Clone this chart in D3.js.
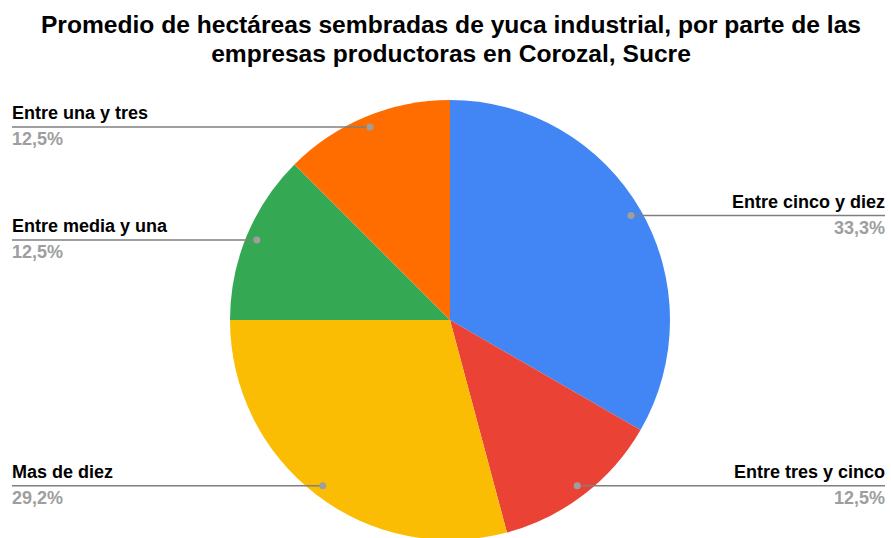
<!DOCTYPE html>
<html>
<head>
<meta charset="utf-8">
<script src="https://cdn.jsdelivr.net/npm/d3@7"></script>
<style>
  html, body { margin: 0; padding: 0; background: #ffffff; }
  svg { display: block; }
  text { font-family: "Liberation Sans", Arial, sans-serif; }
</style>
</head>
<body>
<svg id="chart" width="891" height="538"></svg>
<script>
// Chart data
const titleLines = [
  "Promedio de hectáreas sembradas de yuca industrial, por parte de las",
  "empresas productoras en Corozal, Sucre"
];
const categories = ["Entre cinco y diez", "Entre tres y cinco", "Mas de diez", "Entre media y una", "Entre una y tres"];
const values = [8, 3, 7, 3, 3];
const colors = ["#4285f4", "#ea4335", "#fbbc04", "#34a853", "#ff6d01"];

const width = 891, height = 538;
const cx = 450, cy = 320, radius = 220;
const dotRadius = 209;
const leftEdge = 12, rightEdge = 885;

const svg = d3.select("#chart");

// Title
svg.append("text")
  .attr("x", 451)
  .attr("y", 33)
  .attr("text-anchor", "middle")
  .attr("font-size", 24.6)
  .attr("font-weight", "bold")
  .attr("fill", "#000")
  .selectAll("tspan")
  .data(titleLines)
  .join("tspan")
  .attr("x", 451)
  .attr("dy", (d, i) => i === 0 ? 0 : 29)
  .text(d => d);

const data = categories.map((c, i) => ({ name: c, value: values[i], color: colors[i] }));
const total = d3.sum(values);
const fmtPct = v => d3.format(".1%")(v).replace(".", ",");

const pie = d3.pie().value(d => d.value).sort(null);
const arcs = pie(data);
const arc = d3.arc().innerRadius(0).outerRadius(radius);
const dotArc = d3.arc().innerRadius(dotRadius).outerRadius(dotRadius);

const g = svg.append("g").attr("transform", `translate(${cx},${cy})`);

g.selectAll("path.slice")
  .data(arcs)
  .join("path")
  .attr("class", "slice")
  .attr("d", arc)
  .attr("fill", d => d.data.color);

// Leader lines, dots and labels
arcs.forEach(a => {
  const mid = (a.startAngle + a.endAngle) / 2;
  const [dx, dy] = dotArc.centroid(a);
  const px = cx + dx, py = cy + dy;
  const isRight = mid < Math.PI;
  const edge = isRight ? rightEdge : leftEdge;

  svg.append("line")
    .attr("x1", px).attr("y1", py)
    .attr("x2", edge).attr("y2", py)
    .attr("stroke", "#7f7f7f")
    .attr("stroke-width", 1.5);

  svg.append("circle")
    .attr("cx", px).attr("cy", py)
    .attr("r", 3.5)
    .attr("fill", "#9e9e9e");

  svg.append("text")
    .attr("x", edge)
    .attr("y", py - 8)
    .attr("text-anchor", isRight ? "end" : "start")
    .attr("font-size", 18)
    .attr("font-weight", "bold")
    .attr("fill", "#000")
    .text(a.data.name);

  svg.append("text")
    .attr("x", edge)
    .attr("y", py + 18)
    .attr("text-anchor", isRight ? "end" : "start")
    .attr("font-size", 18)
    .attr("font-weight", "bold")
    .attr("fill", "#9e9e9e")
    .text(fmtPct(a.data.value / total));
});
</script>
</body>
</html>
